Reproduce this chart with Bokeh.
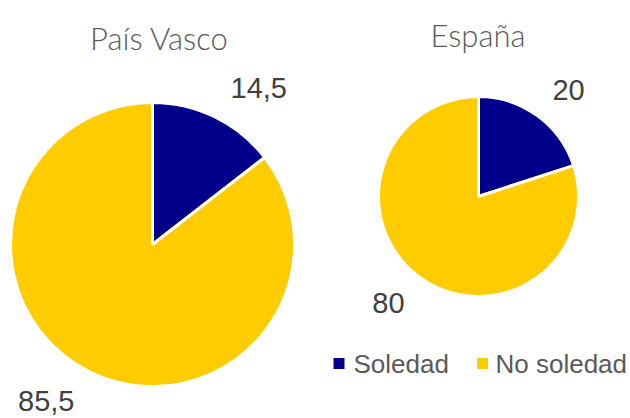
import math
from bokeh.plotting import figure
from bokeh.models import ColumnDataSource, Range1d
from bokeh.core.properties import value
from bokeh.embed import file_html
from bokeh.resources import INLINE

# ---- data ----
regions = ["País Vasco", "España"]
series = ["Soledad", "No soledad"]
soledad = [14.5, 20]
no_soledad = [85.5, 80]
colors = ["#00008B", "#FFCC00"]

# ---- layout (pixel coordinates from top-left) ----
W, H = 630, 418
centers_x = [152, 478]
centers_y = [244, 196]
radii = [142, 100]
label_angle_shift = [-8.0, -4.2]   # degrees, per pie
label_dist = [1.335, 1.395]        # times radius, per pie
title_x = [159, 477.5]
title_base = [37, 34]

def Y(py):
    return H - py

p = figure(width=W, height=H, output_backend="svg", toolbar_location=None,
           x_range=Range1d(0, W), y_range=Range1d(0, H),
           x_axis_type=None, y_axis_type=None, min_border=0)
p.outline_line_color = None
p.grid.visible = False
p.background_fill_color = "white"

wx, wy, wr, ws, we, wc = [], [], [], [], [], []
lx, ly, lt = [], [], []
for i, reg in enumerate(regions):
    vals = [soledad[i], no_soledad[i]]
    total = sum(vals)
    cum = 0.0
    for j, v in enumerate(vals):
        a0 = math.pi / 2 - cum / total * 2 * math.pi
        cum += v
        a1 = math.pi / 2 - cum / total * 2 * math.pi
        wx.append(centers_x[i]); wy.append(Y(centers_y[i])); wr.append(radii[i])
        ws.append(a0); we.append(a1); wc.append(colors[j])
        mid = (a0 + a1) / 2 + math.radians(label_angle_shift[i])
        d = radii[i] * label_dist[i]
        lx.append(centers_x[i] + d * math.cos(mid))
        ly.append(Y(centers_y[i]) + d * math.sin(mid))
        lt.append(f"{v:g}".replace(".", ","))

src = ColumnDataSource(dict(x=wx, y=wy, r=wr, s=ws, e=we, c=wc))
p.wedge(x="x", y="y", radius="r", start_angle="s", end_angle="e",
        direction="clock", fill_color="c", line_color="white", line_width=3,
        source=src)

p.text(x=lx, y=ly, text=lt, text_font=value("Liberation Sans"),
       text_font_size="29px", text_color="#404040",
       text_align="center", text_baseline="middle")

p.text(x=title_x, y=[Y(b) for b in title_base], text=regions,
       text_font=value("Lato Light"), text_font_size="31px", text_color="#595959",
       text_align="center", text_baseline="alphabetic")

# legend
leg_sq_x = [338.5, 482]
leg_tx = [353, 495]
leg_y = 363
p.scatter(x=leg_sq_x, y=[Y(leg_y)] * 2, marker="square", size=11,
          fill_color=colors, line_color=None)
p.text(x=leg_tx, y=[Y(leg_y)] * 2, text=series,
       text_font=value("Liberation Sans"), text_font_size="26px",
       text_color="#595959", text_align="left", text_baseline="middle")

open("out.html", "w").write(file_html(p, INLINE))
